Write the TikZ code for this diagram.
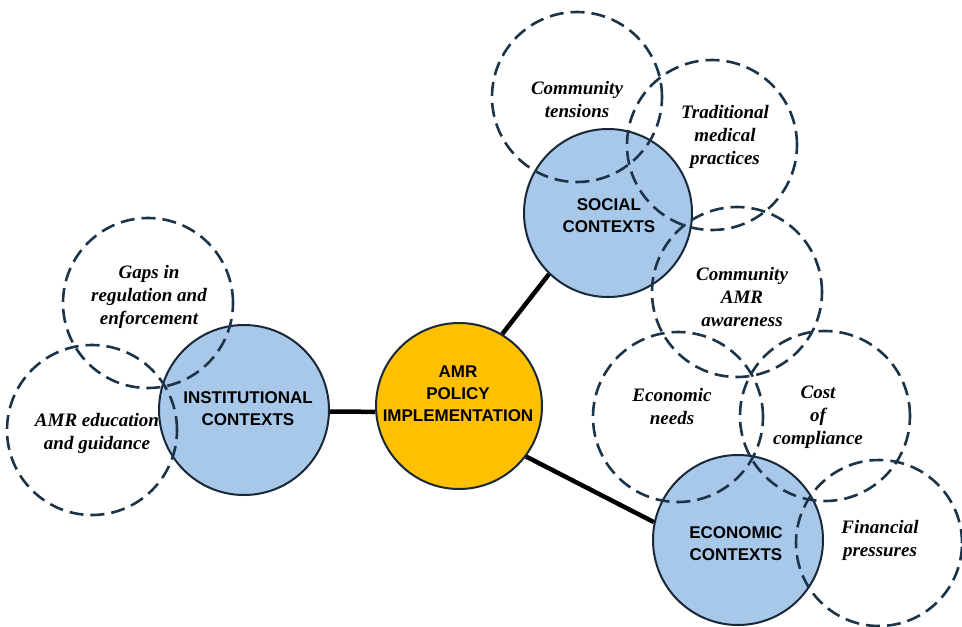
\documentclass[tikz,border=0pt]{standalone}
\usepackage{fontspec}
\setmainfont{Liberation Serif}
\setsansfont{Liberation Sans}
\definecolor{ctxblue}{RGB}{168,200,234}
\definecolor{amrgold}{RGB}{255,192,0}
\definecolor{bordercol}{RGB}{24,40,56}
\definecolor{dashcol}{RGB}{27,52,72}
\begin{document}
\begin{tikzpicture}[x=1pt,y=-1pt,
  hub/.style={circle, draw=bordercol, line width=2pt, inner sep=0pt},
  ctx/.style={hub, fill=ctxblue},
  subc/.style={circle, draw=dashcol, line width=2.6pt, dash pattern=on 14pt off 7pt, inner sep=0pt, minimum size=170pt},
  hubtext/.style={font=\sffamily\bfseries\fontsize{17}{22}\selectfont, align=center, text=black},
  subtext/.style={font=\bfseries\itshape\fontsize{19}{23}\selectfont, align=center, text=black},
  link/.style={line width=4.5pt, black}]
\useasboundingbox (0,0) rectangle (962,627);
% main circles
\node[ctx, minimum size=170pt] (inst) at (244,410) {};
\node[hub, fill=amrgold, minimum size=166pt] (amr) at (459,406) {};
\node[ctx, minimum size=168pt] (soc) at (608,213) {};
\node[ctx, minimum size=170pt] (eco) at (738,540) {};
% connectors
\draw[link] (inst.-1) -- (amr.184);
\draw[link] (amr.59) -- (soc.226);
\draw[link] (amr.-37) -- (eco.168);
% dashed circles
\node[subc] (gaps) at (148,303) {};
\node[subc] (edu) at (92,430) {};
\node[subc] (tens) at (577,97) {};
\node[subc] (trad) at (712,145) {};
\node[subc] (aware) at (737,292) {};
\node[subc] (needs) at (678,417) {};
\node[subc] (cost) at (825,416) {};
\node[subc, minimum size=166pt] (fin) at (879,543) {};
% hub texts
\node[hubtext] (instT) at (248,409) {INSTITUTIONAL\\CONTEXTS};
\node[hubtext] (amrT) at (458,394) {AMR\\POLICY\\IMPLEMENTATION};
\node[hubtext] (socT) at (609,216) {SOCIAL\\CONTEXTS};
\node[hubtext] (ecoT) at (736,544) {ECONOMIC\\CONTEXTS};
% sub texts
\node[subtext] (gapsT) at (149,297) {Gaps in\\regulation and\\enforcement};
\node[subtext] (eduT) at (97,433) {AMR education\\and guidance};
\node[subtext] (tensT) at (577,99) {Community\\tensions};
\node[subtext] (tradT) at (725,137) {Traditional\\medical\\practices};
\node[subtext] (awareT) at (742,297) {Community\\AMR\\awareness};
\node[subtext] (needsT) at (672,406) {Economic\\needs};
\node[subtext] (costT) at (818,417) {Cost\\of\\compliance};
\node[subtext] (finT) at (880,540) {Financial\\pressures};
\end{tikzpicture}
\end{document}
